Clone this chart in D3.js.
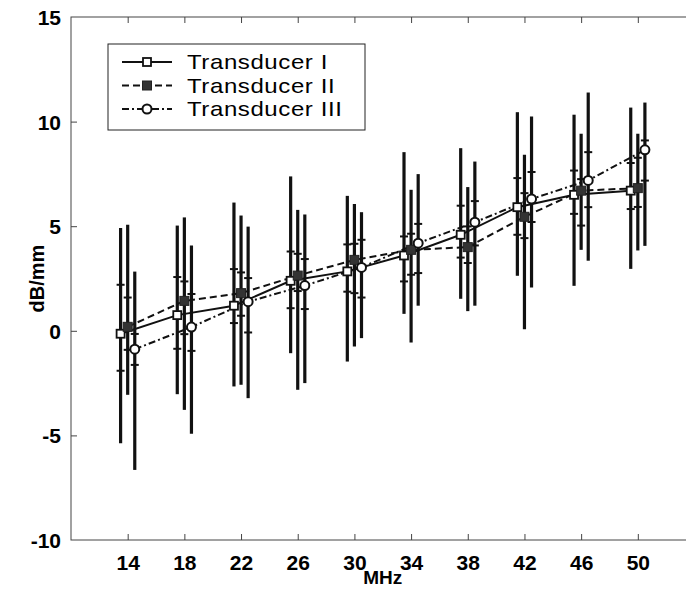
<!DOCTYPE html>
<html><head><meta charset="utf-8">
<script src="https://cdn.jsdelivr.net/npm/d3@7/dist/d3.min.js"></script>
<style>body{margin:0;background:#fff}svg{display:block}</style>
</head><body>
<svg id="c" width="686" height="590"></svg>
<script>
const freqs = [14, 18, 22, 26, 30, 34, 38, 42, 46, 50];
const xTicks = [14, 18, 22, 26, 30, 34, 38, 42, 46, 50];
const yTicks = [-10, -5, 0, 5, 10, 15];
const seriesNames = ["Transducer I", "Transducer II", "Transducer III"];

const meanI   = [-0.14, 0.75, 1.2, 2.39, 2.84, 3.6, 4.59, 5.91, 6.5, 6.7];
const hiI     = [2.2, 2.57, 2.95, 3.79, 4.13, 4.51, 5.98, 7.3, 7.66, 8.02];
const loI     = [-1.91, -0.86, 0.37, 1.08, 1.87, 2.36, 3.5, 4.59, 5.59, 5.82];
const maxI    = [4.91, 5.03, 6.13, 7.38, 6.45, 8.54, 8.73, 10.45, 10.33, 10.67];
const minI    = [-5.37, -3.03, -2.66, -1.07, -1.47, 0.81, 1.53, 2.63, 2.15, 2.96];

const meanII  = [0.19, 1.43, 1.8, 2.64, 3.39, 3.87, 4.0, 5.45, 6.7, 6.82];
const hiII    = [1.59, 2.36, 2.79, 3.68, 4.16, 4.64, 4.99, 6.58, 7.25, 8.27];
const loII    = [-0.91, -0.16, 0.72, 1.9, 1.8, 2.68, 3.24, 4.43, 5.03, 5.92];
const maxII   = [5.07, 5.42, 5.51, 5.78, 6.06, 6.74, 6.87, 8.41, 9.42, 9.42];
const minII   = [-3.06, -3.78, -2.58, -2.82, -0.75, -0.56, 0.94, 0.08, 3.87, 3.84];

const meanIII = [-0.88, 0.18, 1.39, 2.16, 3.03, 4.19, 5.19, 6.3, 7.19, 8.65];
const hiIII   = [-0.15, 1.76, 2.52, 3.43, 4.35, 5.11, 6.2, 7.59, 8.54, 9.1];
const loIII   = [-1.63, -0.96, -0.08, 1.04, 1.59, 2.76, 4.08, 5.2, 5.91, 7.18];
const maxIII  = [2.83, 4.08, 4.98, 5.56, 5.67, 7.49, 8.09, 10.24, 11.39, 10.91];
const minIII  = [-6.65, -4.92, -3.22, -2.5, -0.35, 1.2, 1.2, 2.07, 3.35, 4.06];

const offsets = [-0.5, 0, 0.5];

const series = [
  {name: seriesNames[0], mean: meanI, hi: hiI, lo: loI, max: maxI, min: minI, dash: null, marker: "sqOpen"},
  {name: seriesNames[1], mean: meanII, hi: hiII, lo: loII, max: maxII, min: minII, dash: "7,4", marker: "sqFill"},
  {name: seriesNames[2], mean: meanIII, hi: hiIII, lo: loIII, max: maxIII, min: minIII, dash: "7,3,2,3", marker: "circ"}
];

const svg = d3.select("#c");
const L = 71, T = 17, B = 540;
const x = d3.scaleLinear().domain([10, 54]).range([L, 694.5]);
const y = d3.scaleLinear().domain([-10, 15]).range([B, T]);

const font = "'Liberation Sans', Arial, Helvetica, sans-serif";

// frame
const frameCol = "#444";
svg.append("rect").attr("x", L).attr("y", T).attr("width", x(54) - L).attr("height", B - T)
  .attr("fill", "none").attr("stroke", frameCol).attr("stroke-width", 1);

// axes
const fmt = d => String(d);
const xAxisB = d3.axisBottom(x).tickValues(xTicks).tickSize(-6).tickPadding(15).tickFormat(fmt);
const gx = svg.append("g").attr("transform", `translate(0,${B})`).call(xAxisB);
const xAxisT = d3.axisTop(x).tickValues(xTicks).tickSize(-6).tickFormat("");
const gxt = svg.append("g").attr("transform", `translate(0,${T})`).call(xAxisT);
const yAxisL = d3.axisLeft(y).tickValues(yTicks).tickSize(-6).tickPadding(10).tickFormat(fmt);
const gy = svg.append("g").attr("transform", `translate(${L},0)`).call(yAxisL);
[gx, gxt, gy].forEach(g => {
  g.select(".domain").remove();
  g.selectAll(".tick line").attr("stroke", frameCol).attr("stroke-width", 1);
  g.selectAll(".tick text").attr("font-family", font).attr("font-weight", "bold")
    .attr("font-size", 21).attr("fill", "#000");
});
gy.selectAll(".tick text").attr("dy", "0.36em");
gy.selectAll(".tick").filter(d => d === 15 || d === -10).select("line").remove();

svg.append("text").attr("x", x(32)).attr("y", 584).attr("text-anchor", "middle")
  .attr("font-family", font).attr("font-weight", "bold").attr("font-size", 19).text("MHz");
svg.append("text").attr("transform", `translate(44,${(T + B) / 2}) rotate(-90)`).attr("text-anchor", "middle")
  .attr("font-family", font).attr("font-weight", "bold").attr("font-size", 20).text("dB/mm");

const plot = svg.append("g");

function drawMarker(g, type, cx, cy) {
  if (type === "sqOpen") {
    g.append("rect").attr("x", cx - 4).attr("y", cy - 4).attr("width", 8).attr("height", 8)
      .attr("fill", "#fff").attr("stroke", "#111").attr("stroke-width", 1.8);
  } else if (type === "sqFill") {
    g.append("rect").attr("x", cx - 4.5).attr("y", cy - 4.5).attr("width", 9).attr("height", 9)
      .attr("fill", "#333").attr("stroke", "#222").attr("stroke-width", 1);
  } else {
    g.append("circle").attr("cx", cx).attr("cy", cy).attr("r", 4.5)
      .attr("fill", "#fff").attr("stroke", "#111").attr("stroke-width", 2);
  }
}

// error bars
series.forEach((s, si) => {
  freqs.forEach((f, i) => {
    const cx = x(f + offsets[si]);
    plot.append("line").attr("x1", cx).attr("x2", cx).attr("y1", y(s.max[i])).attr("y2", y(s.min[i]))
      .attr("stroke", "#111").attr("stroke-width", 3.2);
    [s.hi[i], s.lo[i]].forEach(v => {
      plot.append("line").attr("x1", cx - 4).attr("x2", cx + 4).attr("y1", y(v)).attr("y2", y(v))
        .attr("stroke", "#111").attr("stroke-width", 2);
    });
  });
});

// lines
series.forEach((s, si) => {
  const line = d3.line().x((d, i) => x(freqs[i] + offsets[si])).y(d => y(d));
  plot.append("path").attr("d", line(s.mean)).attr("fill", "none").attr("stroke", "#111")
    .attr("stroke-width", 2).attr("stroke-dasharray", s.dash);
});

// markers
series.forEach((s, si) => {
  freqs.forEach((f, i) => drawMarker(plot, s.marker, x(f + offsets[si]), y(s.mean[i])));
});

// legend
const lg = svg.append("g");
lg.append("rect").attr("x", 108).attr("y", 44).attr("width", 257).attr("height", 86)
  .attr("fill", "#fff").attr("stroke", "#222").attr("stroke-width", 1);
series.forEach((s, si) => {
  const ly = 62 + si * 23.5;
  lg.append("line").attr("x1", 122).attr("x2", 172).attr("y1", ly).attr("y2", ly)
    .attr("stroke", "#111").attr("stroke-width", 2).attr("stroke-dasharray", s.dash);
  drawMarker(lg, s.marker, 147, ly);
  lg.append("text").attr("transform", `translate(187,${ly}) scale(1.2,1)`).attr("dy", "0.36em")
    .attr("font-family", font).attr("font-size", 20).attr("letter-spacing", 0.5)
    .attr("fill", "#000").text(s.name);
});
</script>
</body></html>
